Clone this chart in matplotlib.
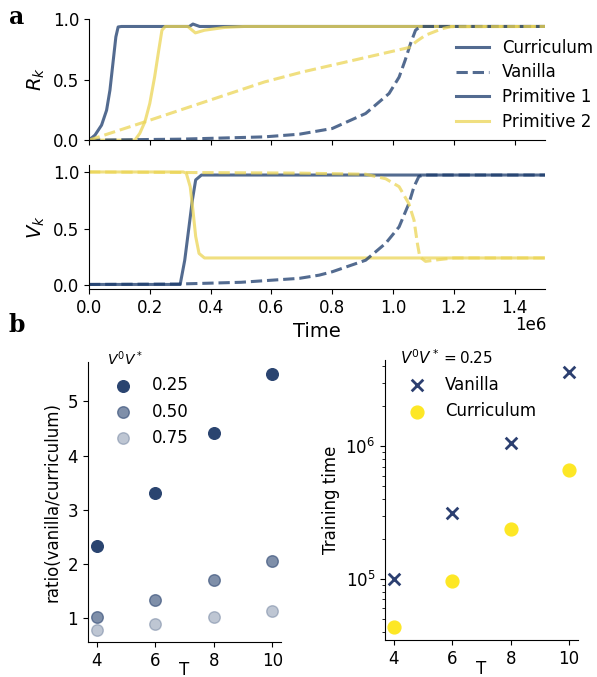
import numpy as np
import matplotlib
matplotlib.use("Agg")
import matplotlib.pyplot as plt
from matplotlib.lines import Line2D

# --- panel a: learning curves (time in units of 1e6) ---
t_R_cur1 = [0, 0.0197, 0.0415, 0.058, 0.069, 0.080, 0.0885, 0.096, 0.107, 0.33, 0.342, 0.364, 1.5]
R_cur1 = [0, 0.041, 0.124, 0.247, 0.412, 0.66, 0.852, 0.934, 0.938, 0.938, 0.958, 0.938, 0.938]
t_R_cur2 = [0, 0.151, 0.167, 0.184, 0.2, 0.216, 0.2295, 0.240, 0.251, 0.325, 0.35, 0.38, 0.446, 0.51, 1.5]
R_cur2 = [0, 0, 0.055, 0.151, 0.302, 0.522, 0.742, 0.907, 0.938, 0.938, 0.885, 0.907, 0.93, 0.938, 0.938]
t_R_van1 = [0, 0.3, 0.577, 0.692, 0.80, 0.91, 0.987, 1.02, 1.04, 1.058, 1.074, 1.09, 1.5]
R_van1 = [0, 0.008, 0.027, 0.049, 0.096, 0.22, 0.385, 0.52, 0.66, 0.80, 0.907, 0.938, 0.938]
t_R_van2 = [0, 0.184, 0.577, 0.703, 1.052, 1.08, 1.107, 1.162, 1.19, 1.5]
R_van2 = [0, 0.151, 0.48, 0.563, 0.764, 0.82, 0.866, 0.92, 0.936, 0.938]

t_V_cur1 = [0, 0.30, 0.315, 0.329, 0.34, 0.351, 0.37, 1.5]
V_cur1 = [0.006, 0.006, 0.22, 0.515, 0.75, 0.93, 0.973, 0.973]
t_V_cur2 = [0, 0.31, 0.32, 0.333, 0.342, 0.351, 0.362, 0.38, 1.5]
V_cur2 = [1.0, 1.0, 0.99, 0.87, 0.66, 0.43, 0.28, 0.24, 0.24]
t_V_van1 = [0, 0.3, 0.5, 0.692, 0.757, 0.80, 0.91, 0.976, 1.02, 1.052, 1.069, 1.085, 1.1, 1.5]
V_van1 = [0.006, 0.01, 0.025, 0.06, 0.088, 0.118, 0.22, 0.37, 0.515, 0.72, 0.87, 0.96, 0.973, 0.973]
t_V_van2 = [0, 0.692, 0.91, 0.976, 1.02, 1.052, 1.069, 1.08, 1.088, 1.107, 1.15, 1.2, 1.5]
V_van2 = [1.0, 0.99, 0.98, 0.94, 0.87, 0.72, 0.575, 0.37, 0.25, 0.21, 0.225, 0.24, 0.24]

# --- panel b ---
T_vals = [4, 6, 8, 10]
overlaps = ["0.25", "0.50", "0.75"]
ratio_025 = [2.34, 3.31, 4.42, 5.50]
ratio_050 = [1.03, 1.34, 1.70, 2.05]
ratio_075 = [0.79, 0.90, 1.03, 1.13]
time_vanilla = [1.0e5, 3.16e5, 1.06e6, 3.61e6]
time_curriculum = [4.3e4, 9.6e4, 2.38e5, 6.6e5]

dark = "#1a3a6b"
yellow = "#ebd555"
navy = "#2a4470"
plt.rcParams["font.size"] = 12

fig = plt.figure(figsize=(5.97, 6.77), dpi=100)

axR = fig.add_axes([0.149, 0.793, 0.764, 0.179])
axV = fig.add_axes([0.149, 0.573, 0.764, 0.183])

lw = 2.2
al = 0.75
for ax, curves in [(axR, [(t_R_cur1, R_cur1, dark, "-"), (t_R_cur2, R_cur2, yellow, "-"),
                          (t_R_van1, R_van1, dark, "--"), (t_R_van2, R_van2, yellow, "--")]),
                   (axV, [(t_V_cur1, V_cur1, dark, "-"), (t_V_cur2, V_cur2, yellow, "-"),
                          (t_V_van1, V_van1, dark, "--"), (t_V_van2, V_van2, yellow, "--")])]:
    for t, v, c, ls in curves:
        ax.plot(np.array(t) * 1e6, v, color=c, ls=ls, lw=lw, alpha=al)
    ax.set_xlim(0, 1.5e6)
    ax.spines["top"].set_visible(False)
    ax.spines["right"].set_visible(False)

axR.set_ylim(0, 1)
axR.set_yticks([0, 0.5, 1.0])
axR.set_xticks(np.arange(0, 1.5e6, 0.2e6))
axR.tick_params(labelbottom=False)
axR.set_ylabel("$R_k$", fontsize=14)

axV.set_ylim(-0.035, 1.06)
axV.set_yticks([0, 0.5, 1.0])
axV.set_xticks(np.arange(0, 1.5e6, 0.2e6))
axV.set_xlabel("Time", fontsize=14, labelpad=4)
axV.set_ylabel("$V_k$", fontsize=14)
axV.xaxis.get_offset_text().set_visible(False)
fig.text(0.915, 1 - 325 / 677, "1e6", ha="right", va="center", fontsize=12)

handles = [Line2D([], [], color=dark, lw=lw, alpha=al),
           Line2D([], [], color=dark, lw=lw, alpha=al, ls="--"),
           Line2D([], [], color=dark, lw=lw, alpha=al),
           Line2D([], [], color=yellow, lw=lw, alpha=al)]
fig.legend(handles, ["Curriculum", "Vanilla", "Primitive 1", "Primitive 2"],
           loc="upper left", bbox_to_anchor=(0.738, 0.965), frameon=False,
           labelspacing=0.4, fontsize=12)

# panel b left
axL = fig.add_axes([0.147, 0.052, 0.324, 0.413])
for vals, a, lab in [(ratio_025, 1.0, overlaps[0]), (ratio_050, 0.6, overlaps[1]), (ratio_075, 0.3, overlaps[2])]:
    axL.scatter(T_vals, vals, s=70, color=navy, alpha=a, edgecolors=navy, linewidths=1, label=lab)
axL.set_xlim(3.7, 10.3)
axL.set_ylim(0.57, 5.72)
axL.set_xticks(T_vals)
axL.set_yticks([1, 2, 3, 4, 5])
axL.set_xlabel("T", labelpad=-6)
axL.set_ylabel("ratio(vanilla/curriculum)")
leg = axL.legend(title="$V^0V^*$", frameon=False, loc="upper left",
                 bbox_to_anchor=(0.02, 1.10), handletextpad=0.7, labelspacing=0.5,
                 title_fontsize=10)
leg._legend_box.align = "left"
axL.spines["top"].set_visible(False)
axL.spines["right"].set_visible(False)

# panel b right
axT = fig.add_axes([0.645, 0.054, 0.323, 0.414])
axT.scatter(T_vals, time_vanilla, marker="x", s=70, color="#2c3f70", linewidths=2, label="Vanilla")
axT.scatter(T_vals, time_curriculum, marker="o", s=85, color="#fde725", label="Curriculum")
axT.set_yscale("log")
axT.set_xlim(3.7, 10.3)
axT.set_ylim(3.43e4, 4.46e6)
axT.set_xticks(T_vals)
axT.set_xlabel("T", labelpad=-6)
axT.set_ylabel("Training time")
leg2 = axT.legend(title="$V^0V^* = 0.25$", frameon=False, loc="upper left",
                  bbox_to_anchor=(0.0, 1.095), handletextpad=0.7, labelspacing=0.5,
                  title_fontsize=11)
leg2._legend_box.align = "left"
axT.spines["top"].set_visible(False)
axT.spines["right"].set_visible(False)

fig.text(0.015, 0.965, "a", fontsize=17, fontweight="bold", family="DejaVu Serif")
fig.text(0.015, 0.51, "b", fontsize=17, fontweight="bold", family="DejaVu Serif")

fig.savefig("out.png", dpi=100)
